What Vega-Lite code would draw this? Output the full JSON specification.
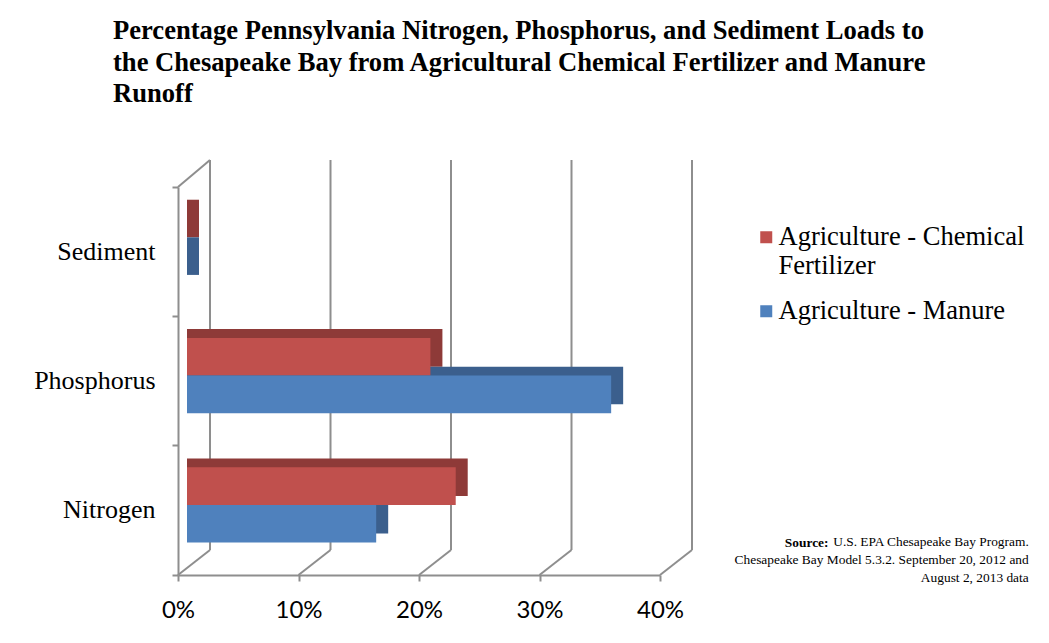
{
  "$schema": "https://vega.github.io/schema/vega-lite/v6.json",
  "width": 482,
  "height": 388,
  "autosize": {"type": "none"},
  "padding": {"left": 178, "top": 187, "right": 389, "bottom": 68},
  "background": "white",
  "config": {
    "view": {"stroke": null},
    "font": "Liberation Serif",
    "legend": {"padding": 0},
    "axisX": {
      "grid": false,
      "domainColor": "#8E8E8E", "domainWidth": 2,
      "tickColor": "#8E8E8E", "tickWidth": 2, "tickSize": 6,
      "labelFont": "Lato", "labelFontSize": 24, "labelColor": "black", "labelPadding": 17, "labelFlush": false
    }
  },
  "title": {
    "text": [
      "Percentage Pennsylvania Nitrogen, Phosphorus, and Sediment Loads to",
      "the Chesapeake Bay from Agricultural Chemical Fertilizer and Manure",
      "Runoff"
    ],
    "anchor": "start",
    "frame": "group",
    "font": "Liberation Serif",
    "fontSize": 26.6,
    "fontWeight": "bold",
    "color": "black",
    "lineHeight": 31.5,
    "dx": -65,
    "offset": 51
  },
  "datasets": {
    "bars": [
      {"cat": "Nitrogen", "series": "Agriculture - Chemical Fertilizer", "v": 22.3},
      {"cat": "Nitrogen", "series": "Agriculture - Manure", "v": 15.7},
      {"cat": "Phosphorus", "series": "Agriculture - Chemical Fertilizer", "v": 20.2},
      {"cat": "Phosphorus", "series": "Agriculture - Manure", "v": 35.2},
      {"cat": "Sediment", "series": "Agriculture - Chemical Fertilizer", "v": 0},
      {"cat": "Sediment", "series": "Agriculture - Manure", "v": 0}
    ],
    "grid": [{"g": 0}, {"g": 10}, {"g": 20}, {"g": 30}, {"g": 40}]
  },
  "layer": [
    {
      "data": {"name": "grid"},
      "mark": {"type": "rule", "color": "#8E8E8E", "strokeWidth": 2, "xOffset": 32, "yOffset": -25, "y2Offset": -27},
      "encoding": {
        "x": {"field": "g", "type": "quantitative", "scale": {"domain": [0, 40], "nice": false}, "axis": {"values": [0, 10, 20, 30, 40], "labelExpr": "datum.value + '%'", "title": null}},
        "y": {"datum": 0, "type": "quantitative", "scale": {"domain": [0, 1]}, "axis": null},
        "y2": {"datum": 1}
      }
    },
    {
      "data": {"name": "grid"},
      "mark": {"type": "rule", "color": "#8E8E8E", "strokeWidth": 2, "x2Offset": 32, "y2Offset": -25},
      "encoding": {
        "x": {"field": "g", "type": "quantitative", "scale": {"domain": [0, 40], "nice": false}, "axis": {"values": [0, 10, 20, 30, 40], "labelExpr": "datum.value + '%'", "title": null}},
        "x2": {"field": "g"},
        "y": {"datum": 0, "type": "quantitative", "scale": {"domain": [0, 1]}, "axis": null},
        "y2": {"datum": 0}
      }
    },
    {
      "data": {"values": [{"g": 0}]},
      "mark": {"type": "rule", "color": "#8E8E8E", "strokeWidth": 2, "x2Offset": 32, "y2Offset": -27},
      "encoding": {
        "x": {"field": "g", "type": "quantitative", "scale": {"domain": [0, 40], "nice": false}, "axis": {"values": [0, 10, 20, 30, 40], "labelExpr": "datum.value + '%'", "title": null}},
        "x2": {"field": "g"},
        "y": {"datum": 1, "type": "quantitative", "scale": {"domain": [0, 1]}, "axis": null},
        "y2": {"datum": 1}
      }
    },
    {
      "data": {"name": "bars"},
      "mark": {"type": "bar", "xOffset": 21, "x2Offset": 9},
      "encoding": {
        "x": {"field": "v", "type": "quantitative", "scale": {"domain": [0, 40], "nice": false}, "axis": {"values": [0, 10, 20, 30, 40], "labelExpr": "datum.value + '%'", "title": null}},
        "x2": {"datum": 0},
        "y": {"field": "cat", "type": "nominal", "sort": ["Sediment", "Phosphorus", "Nitrogen"], "scale": {"paddingInner": 0, "paddingOuter": 0}, "axis": null},
        "yOffset": {"field": "series", "type": "nominal", "sort": ["Agriculture - Chemical Fertilizer", "Agriculture - Manure"], "scale": {"paddingInner": 0, "paddingOuter": 0.72, "align": 0.235}},
        "color": {"field": "series", "type": "nominal", "scale": {"domain": ["Agriculture - Chemical Fertilizer", "Agriculture - Manure"], "range": ["#8E3A38", "#3B5F8D"]}, "legend": null}
      }
    },
    {
      "data": {"name": "bars"},
      "mark": {"type": "bar", "xOffset": 9, "x2Offset": 9},
      "encoding": {
        "x": {"field": "v", "type": "quantitative", "scale": {"domain": [0, 40], "nice": false}, "axis": {"values": [0, 10, 20, 30, 40], "labelExpr": "datum.value + '%'", "title": null}},
        "x2": {"datum": 0},
        "y": {
          "field": "cat", "type": "nominal", "sort": ["Sediment", "Phosphorus", "Nitrogen"],
          "scale": {"paddingInner": 0, "paddingOuter": 0},
          "axis": {
            "bandPosition": 1, "tickExtra": true,
            "domainColor": "#8E8E8E", "domainWidth": 2,
            "tickColor": "#8E8E8E", "tickWidth": 2, "tickSize": 6,
            "labelFont": "Liberation Serif", "labelFontSize": 26, "labelColor": "black", "labelPadding": 17,
            "title": "Source:", "titleFont": "Liberation Serif", "titleFontSize": 13.4, "titleFontWeight": "bold", "titleColor": "black",
            "titleAngle": 0, "titleAlign": "right", "titleBaseline": "alphabetic",
            "titleX": 650, "titleY": 359
          }
        },
        "yOffset": {"field": "series", "type": "nominal", "sort": ["Agriculture - Chemical Fertilizer", "Agriculture - Manure"], "scale": {"paddingInner": 0, "paddingOuter": 0.72, "align": 0.4}},
        "color": {
          "field": "series", "type": "nominal",
          "scale": {"domain": ["Agriculture - Chemical Fertilizer", "Agriculture - Manure"], "range": ["#C0504D", "#4F81BD"]},
          "legend": {
            "orient": "none", "legendX": 575, "legendY": 37, "title": null,
            "labelFont": "Liberation Serif", "labelFontSize": 26.5, "labelColor": "black", "labelLimit": 400,
            "labelOffset": -1, "symbolType": "square", "symbolSize": 144, "symbolStrokeWidth": 0, "rowPadding": 18,
            "labelExpr": "datum.label == 'Agriculture - Chemical Fertilizer' ? ['Agriculture - Chemical', 'Fertilizer'] : datum.label"
          }
        }
      }
    },
    {
      "data": {"values": [{}]},
      "mark": {"type": "text", "align": "right", "baseline": "alphabetic", "font": "Liberation Serif", "fontSize": 13.4, "lineHeight": 18, "color": "black"},
      "encoding": {
        "x": {"datum": 70.6, "type": "quantitative", "scale": {"domain": [0, 40], "nice": false}, "axis": {"values": [0, 10, 20, 30, 40], "labelExpr": "datum.value + '%'", "title": null}},
        "y": {"datum": 0.0747, "type": "quantitative", "scale": {"domain": [0, 1]}, "axis": null},
        "text": {"value": ["U.S. EPA Chesapeake Bay Program.", "Chesapeake Bay Model 5.3.2. September 20, 2012 and", "August 2, 2013 data"]}
      }
    }
  ],
  "resolve": {"scale": {"y": "independent", "yOffset": "independent", "color": "independent"}}
}
